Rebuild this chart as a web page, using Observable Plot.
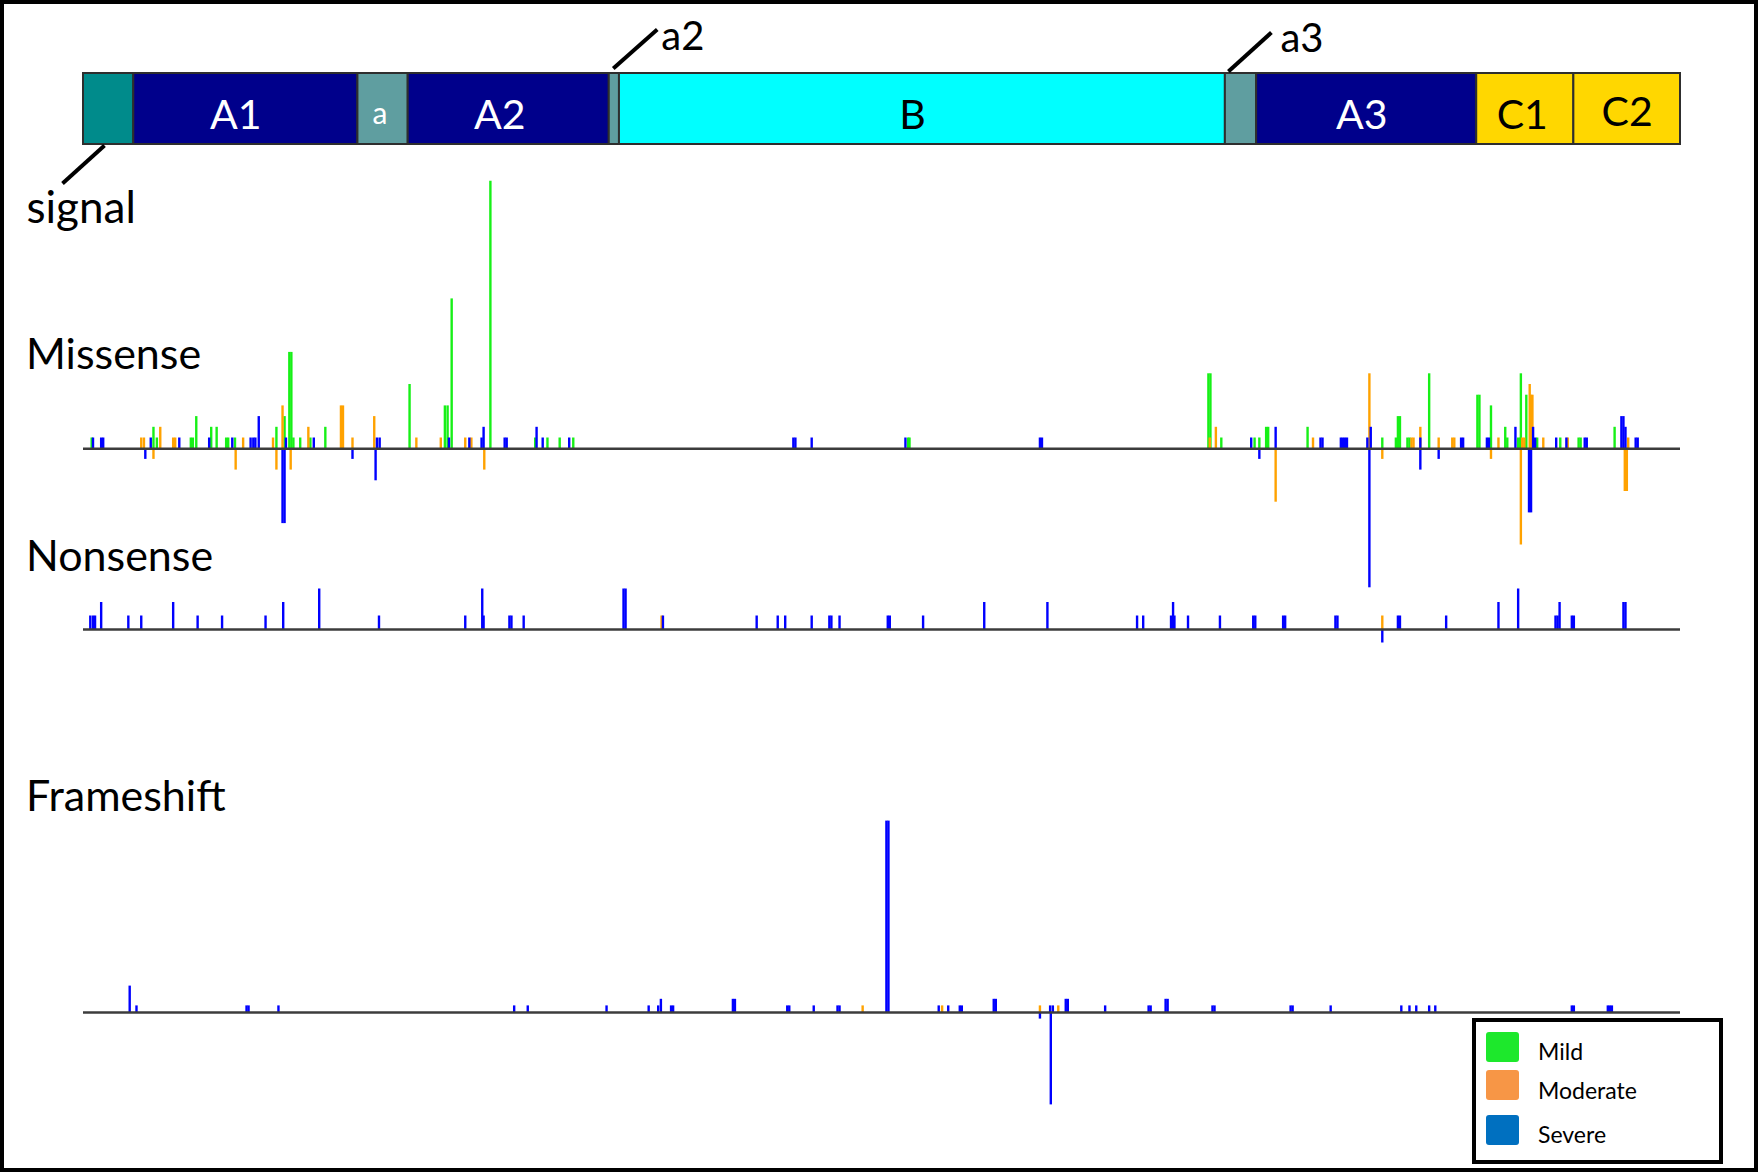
<!DOCTYPE html>
<html>
<head>
<meta charset="utf-8">
<script src="https://cdn.jsdelivr.net/npm/d3@7"></script>
<script src="https://cdn.jsdelivr.net/npm/@observablehq/plot@0.6"></script>
<style>
  html, body { margin: 0; padding: 0; background: #fff; }
  #frame { position: relative; width: 1760px; height: 1173px; overflow: hidden; font-family: Lato, "Open Sans", sans-serif; }
  #border { position: absolute; left: 0; top: 0; width: 1758px; height: 1172px; box-sizing: border-box; border: 4px solid #000; pointer-events: none; }
  .title { position: absolute; left: 26px; font-size: 43px; line-height: 43px; color: #000; white-space: nowrap; }
  #legend { position: absolute; left: 1472px; top: 1018px; width: 251px; height: 146px; box-sizing: border-box; border: 4px solid #000; background: #fff; }
  .sw { position: absolute; left: 10px; width: 33px; height: 30px; border-radius: 3px; }
  .lt { position: absolute; left: 62px; font-size: 23px; line-height: 23px; color: #000; white-space: nowrap; }
  svg.plot-panel { position: absolute; left: 0; }
</style>
</head>
<body>
<div id="frame">
  <div id="legend"></div>
  <div id="border"></div>
</div>
<script>
// ---------- data ----------
// protein domains (start positions along the protein, end = next start)
const domainNames  = ["signal", "A1", "a", "A2", "a2", "B", "a3", "A3", "C1", "C2"];
const domainStarts = [0, 74, 404, 478, 774, 789, 1681, 1727, 2051, 2194];
const proteinLength = 2351;
const insideLabels = ["A1", "a", "A2", "B", "A3", "C1", "C2"];

const severities = ["Mild", "Moderate", "Severe"];

// [position, count]  (negative count = drawn below the line)
const missenseMild = [[12,1],[103,2],[108,1],[158,1],[161,1],[166,3],[188,2],[196,2],[210,1],[213,1],[223,1],[284,2],[296,3],[303,9],[306,9],[309,1],[319,1],[334,1],[356,2],[480,6],[532,4],[536,4],[542,14],[599,25],[665,1],[683,1],[701,1],[721,1],[1214,1],[1216,1],[1656,7],[1659,7],[1675,1],[1724,1],[1731,1],[1741,2],[1744,2],[1802,2],[1912,1],[1932,1],[1935,3],[1938,3],[1949,1],[1952,1],[1981,7],[2052,5],[2055,5],[2072,4],[2093,2],[2096,1],[2112,1],[2115,1],[2116,7],[2124,5],[2140,1],[2174,1],[2201,1],[2204,1],[2254,2]];
const missenseModerate = [[85,1],[89,1],[103,-1],[113,2],[132,1],[135,1],[224,-2],[235,1],[279,1],[284,-2],[293,4],[305,-2],[331,2],[379,4],[382,4],[396,1],[428,3],[490,1],[526,1],[562,1],[571,1],[590,-2],[1658,1],[1667,2],[1755,-5],[1810,1],[1893,7],[1912,-1],[1955,1],[1958,1],[1968,2],[1995,1],[2015,1],[2018,1],[2072,-1],[2083,1],[2118,1],[2121,1],[2116,-9],[2129,6],[2131,5],[2133,5],[2149,1],[2185,1],[2269,-4],[2272,-4],[2274,1]];
const missenseSevere = [[14,1],[26,1],[29,1],[91,-1],[99,1],[141,1],[185,1],[219,1],[246,1],[250,1],[253,1],[258,3],[293,-7],[296,-7],[298,1],[339,1],[396,-1],[430,-3],[432,1],[436,1],[538,1],[568,1],[586,1],[589,2],[620,1],[623,1],[667,2],[676,1],[715,1],[1045,1],[1048,1],[1072,1],[1210,1],[1408,1],[1411,1],[1719,1],[1731,-1],[1755,2],[1821,1],[1824,1],[1851,1],[1854,1],[1857,1],[1860,1],[1890,1],[1895,2],[1893,-13],[1968,1],[1968,-2],[1995,-1],[2028,1],[2031,1],[2066,1],[2069,1],[2108,2],[2128,-6],[2131,-6],[2134,2],[2137,1],[2168,1],[2183,1],[2210,1],[2213,1],[2264,3],[2267,3],[2270,2],[2285,1],[2288,1]];

const nonsenseMild = [];
const nonsenseModerate = [[851,1],[1912,1]];
const nonsenseSevere = [[10,1],[14,1],[17,1],[26,2],[66,1],[85,1],[132,2],[168,1],[204,1],[268,1],[294,2],[347,3],[435,1],[562,1],[587,3],[589,1],[627,1],[630,1],[648,1],[795,3],[798,3],[853,1],[991,1],[1022,1],[1033,1],[1072,1],[1098,1],[1101,1],[1113,1],[1184,1],[1187,1],[1236,1],[1326,2],[1419,2],[1551,1],[1560,1],[1601,1],[1604,2],[1606,1],[1626,1],[1673,1],[1722,1],[1725,1],[1766,1],[1769,1],[1843,1],[1846,1],[1912,-1],[1935,1],[1938,1],[2006,1],[2083,2],[2112,3],[2167,1],[2170,1],[2173,2],[2191,1],[2194,1],[2267,2],[2270,2]];

const frameshiftMild = [];
const frameshiftModerate = [[1147,1],[1264,1],[1408,1],[1435,1]];
const frameshiftSevere = [[68,4],[78,1],[240,1],[243,1],[287,1],[634,1],[654,1],[770,1],[832,1],[846,1],[850,2],[865,1],[868,1],[956,2],[959,2],[1036,1],[1039,1],[1075,1],[1110,1],[1113,1],[1182,29],[1185,29],[1259,1],[1273,1],[1290,1],[1293,1],[1340,2],[1343,2],[1408,-1],[1423,1],[1424,-14],[1427,1],[1446,2],[1449,2],[1504,1],[1568,1],[1571,1],[1593,2],[1596,2],[1662,1],[1665,1],[1777,1],[1780,1],[1836,1],[1940,1],[1952,1],[1962,1],[1981,1],[1990,1],[2191,1],[2194,1],[2244,1],[2247,1],[2250,1]];

// ---------- styles / layout ----------
const domainFill = {signal: "#008b8b", A1: "#00008b", A2: "#00008b", A3: "#00008b", a: "#5f9ea0", a2: "#5f9ea0", a3: "#5f9ea0", B: "#00ffff", C1: "#ffd700", C2: "#ffd700"};
const domainText = {A1: "#fff", a: "#fff", A2: "#fff", A3: "#fff", B: "#000", C1: "#000", C2: "#000"};
const labelDx = {A1: -10, a: -3, A2: -9, B: -10, A3: -5, C1: -3, C2: 0};
const labelDy = {A1: 7, a: 5, A2: 7, B: 7, A3: 7, C1: 7, C2: 4};
const barColor = {Mild: "#17f017", Moderate: "#ffa200", Severe: "#0000ff"};
const legendColor = {Mild: "#1de82c", Moderate: "#f79646", Severe: "#0070c0"};
const FONT = "Lato, 'Open Sans', sans-serif";

const W = 1760, ML = 83, MR = 80;
const frame = document.getElementById("frame");
const borderEl = document.getElementById("border");

function place(svg, top) {
  svg.classList.add("plot-panel");
  svg.style.top = top + "px";
  frame.insertBefore(svg, borderEl);
}

// ---------- domain bar ----------
const domains = domainNames.map((name, i) => ({
  name, start: domainStarts[i], end: i + 1 < domainStarts.length ? domainStarts[i + 1] : proteinLength
}));
const BAR_TOP = 73, BAR_BOTTOM = 144, DH = 250;
const resPerPx = proteinLength / (W - ML - MR);
const unitPerPx = 1 / (BAR_BOTTOM - BAR_TOP);
const dom = name => domains.find(d => d.name === name);
// leader annotations: anchored on a domain, offsets are layout (pixels)
const leaders = [
  {label: "signal", at: dom("signal").start, side: 0, lx1: 21, ly1: -1, lx2: -21, ly2: -39, tx: -57, ty: -78},
  {label: "a2", at: dom("a2").start, side: 1, lx1: 4, ly1: 5, lx2: 48, ly2: 44, tx: 52, ty: 24},
  {label: "a3", at: dom("a3").start, side: 1, lx1: 3, ly1: 2, lx2: 46, ly2: 41, tx: 55, ty: 22}
];
const links = leaders.map(l => ({
  x1: l.at + l.lx1 * resPerPx, y1: l.side + l.ly1 * unitPerPx,
  x2: l.at + l.lx2 * resPerPx, y2: l.side + l.ly2 * unitPerPx
}));
const notes = leaders.map(l => ({label: l.label, x: l.at + l.tx * resPerPx, y: l.side + l.ty * unitPerPx}));

const domainPlot = Plot.plot({
  width: W, height: DH, marginLeft: ML, marginRight: MR, marginTop: BAR_TOP, marginBottom: DH - BAR_BOTTOM,
  x: {domain: [0, proteinLength], axis: null},
  y: {domain: [0, 1], axis: null},
  style: {background: "transparent", overflow: "visible"},
  marks: [
    Plot.rect(domains, {x1: "start", x2: "end", y1: 0, y2: 1, fill: d => domainFill[d.name], stroke: "#2e2e2e", strokeWidth: 2}),
    ...insideLabels.map(name => Plot.text([dom(name)], {
      x: d => (d.start + d.end) / 2, y: 0.5, text: "name",
      fill: domainText[name], fontFamily: FONT,
      fontSize: name === "a" ? 30 : 41, lineAnchor: "middle",
      dx: labelDx[name], dy: labelDy[name]
    })),
    Plot.link(links, {x1: "x1", y1: "y1", x2: "x2", y2: "y2", stroke: "#000", strokeWidth: 4}),
    Plot.text(notes, {x: "x", y: "y", text: "label", textAnchor: "start", lineAnchor: "bottom",
      fontFamily: FONT, fontSize: d => d.label === "signal" ? 44 : 40, fill: "#000"})
  ]
});
place(domainPlot, 0);

// ---------- mutation panels ----------
function panel(mild, moderate, severe, {yDomain, unit, baseline}) {
  const height = (yDomain[1] - yDomain[0]) * unit;
  const top = baseline - yDomain[1] * unit;
  const series = [[mild, "Mild"], [moderate, "Moderate"], [severe, "Severe"]];
  const svg = Plot.plot({
    width: W, height, marginLeft: ML, marginRight: MR, marginTop: 0, marginBottom: 0,
    x: {domain: [0, proteinLength], axis: null},
    y: {domain: yDomain, axis: null},
    style: {background: "transparent", overflow: "visible"},
    marks: [
      ...series.map(([data, sev]) => Plot.ruleX(data, {x: d => d[0], y1: 0, y2: d => d[1], stroke: barColor[sev], strokeWidth: 2.4})),
      Plot.ruleY([0], {stroke: "#3c3c3c", strokeWidth: 2.6})
    ]
  });
  place(svg, top);
}
panel(missenseMild, missenseModerate, missenseSevere, {yDomain: [-14, 26], unit: 10.7, baseline: 448});
panel(nonsenseMild, nonsenseModerate, nonsenseSevere, {yDomain: [-2, 4], unit: 13.5, baseline: 628.5});
panel(frameshiftMild, frameshiftModerate, frameshiftSevere, {yDomain: [-15, 30], unit: 6.6, baseline: 1012});

// ---------- titles ----------
const titles = [["Missense", 369], ["Nonsense", 571], ["Frameshift", 811]];
for (const [t, base] of titles) {
  const el = document.createElement("div");
  el.className = "title";
  el.textContent = t;
  el.style.top = (base - 38) + "px";
  frame.insertBefore(el, borderEl);
}

// ---------- legend ----------
const legend = document.getElementById("legend");
const swTops = [10, 48, 93];
const txtBase = [38, 77, 121];
severities.forEach((s, i) => {
  const sw = document.createElement("div");
  sw.className = "sw";
  sw.style.top = swTops[i] + "px";
  sw.style.background = legendColor[s];
  legend.appendChild(sw);
  const t = document.createElement("div");
  t.className = "lt";
  t.textContent = s;
  t.style.top = (txtBase[i] - 20) + "px";
  legend.appendChild(t);
});
</script>
</body>
</html>
